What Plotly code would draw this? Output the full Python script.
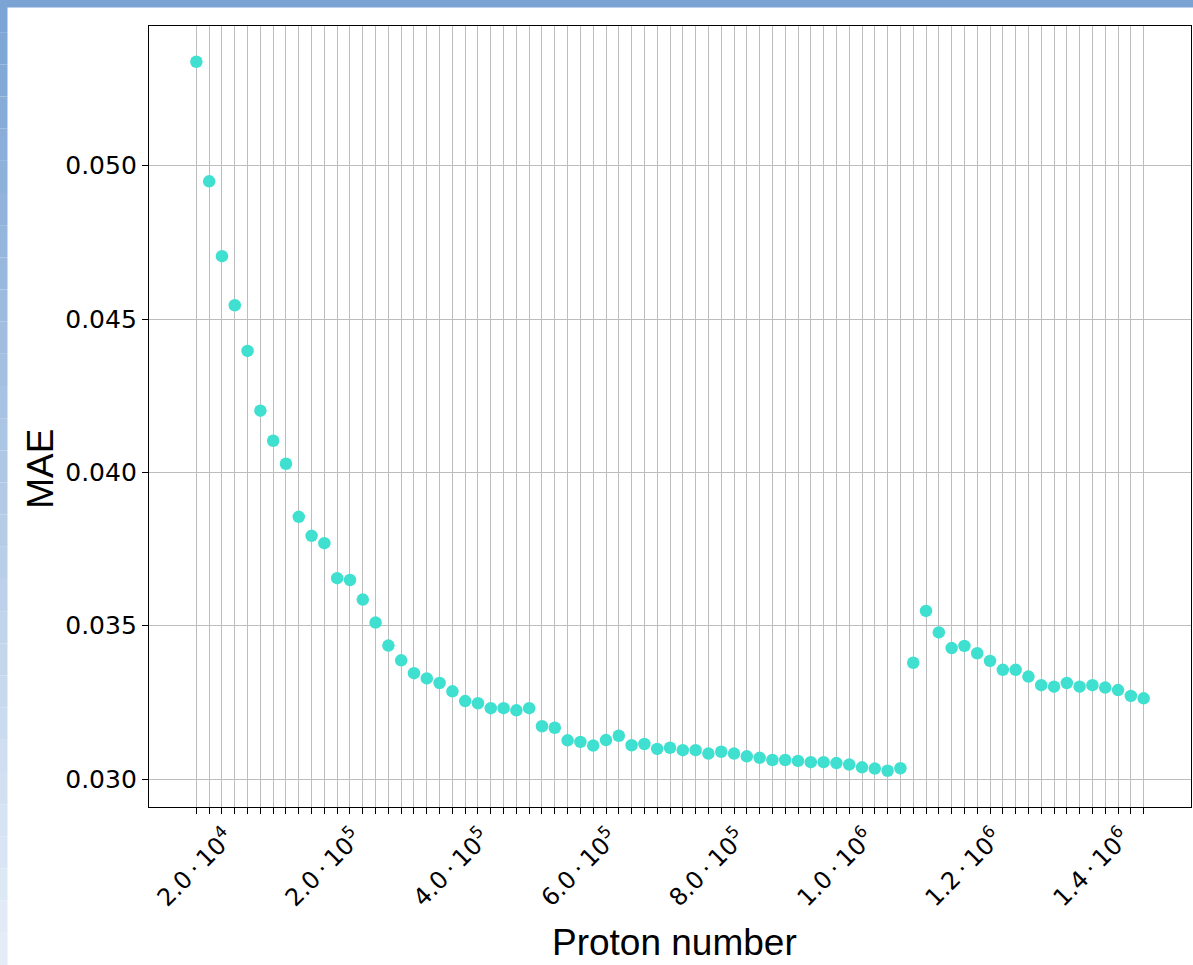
import plotly.graph_objects as go

# ---- data ----
point_index = list(range(75))
mae = [
    0.05339, 0.04949, 0.04705, 0.04545, 0.04396, 0.04201, 0.04103, 0.04028, 0.03855, 0.03793,
    0.03769, 0.03655, 0.03649, 0.03585, 0.03510, 0.03435, 0.03387, 0.03345, 0.03328, 0.03313,
    0.03286, 0.03254, 0.03247, 0.03231, 0.03231, 0.03224, 0.03231, 0.03172, 0.03167, 0.03126,
    0.03121, 0.03109, 0.03127, 0.03141, 0.03110, 0.03114, 0.03098, 0.03102, 0.03094, 0.03094,
    0.03083, 0.03089, 0.03083, 0.03074, 0.03069, 0.03062, 0.03062, 0.03059, 0.03055, 0.03055,
    0.03052, 0.03047, 0.03038, 0.03034, 0.03027, 0.03035, 0.03379, 0.03548, 0.03478, 0.03427,
    0.03434, 0.03410, 0.03385, 0.03356, 0.03356, 0.03334, 0.03306, 0.03301, 0.03313, 0.03301,
    0.03306, 0.03298, 0.03290, 0.03271, 0.03263,
]
label_positions = [2, 12, 22, 32, 42, 52, 62, 72]
label_texts = [
    "2.0\u2009·\u200910<sup>4</sup>",
    "2.0\u2009·\u200910<sup>5</sup>",
    "4.0\u2009·\u200910<sup>5</sup>",
    "6.0\u2009·\u200910<sup>5</sup>",
    "8.0\u2009·\u200910<sup>5</sup>",
    "1.0\u2009·\u200910<sup>6</sup>",
    "1.2\u2009·\u200910<sup>6</sup>",
    "1.4\u2009·\u200910<sup>6</sup>",
]
y_ticks = [0.030, 0.035, 0.040, 0.045, 0.050]
x_title = "Proton number"
y_title = "MAE"

label_map = dict(zip(label_positions, label_texts))
tick_text = [label_map.get(i, "") for i in point_index]

fig = go.Figure()
fig.add_trace(go.Scatter(
    x=point_index, y=mae, mode="markers",
    marker=dict(color="#40E0D0", size=12.5, line=dict(width=0)),
    showlegend=False,
))

W, H = 1193, 965
L, R, T, B = 149, 2, 26, 158
pw, ph = W - L - R, H - T - B

def px_x(p):
    return (p - L) / pw

def px_y(p):
    return (H - B - p) / ph

shapes = []
# top blue strip
shapes.append(dict(type="rect", xref="paper", yref="paper",
                   x0=px_x(0), x1=px_x(W), y0=px_y(7.5), y1=px_y(0),
                   fillcolor="rgb(122,163,211)", line=dict(width=0), layer="below"))
# left gradient strip
n = 30
c0 = (122, 163, 211)
c1 = (230, 238, 248)
for i in range(n):
    ya = i * H / n
    yb = (i + 1) * H / n
    t = (i + 0.5) / n
    c = tuple(int(round(c0[k] + (c1[k] - c0[k]) * t)) for k in range(3))
    shapes.append(dict(type="rect", xref="paper", yref="paper",
                       x0=px_x(0), x1=px_x(7.5), y0=px_y(yb), y1=px_y(ya),
                       fillcolor="rgb(%d,%d,%d)" % c, line=dict(width=0), layer="below"))

tick_font = dict(family="DejaVu Sans", size=25, color="black")
xtick_font = dict(family="DejaVu Sans", size=24, color="black")
title_font = dict(family="Liberation Sans", size=37, color="black")

annotations = [
    dict(text=x_title, xref="paper", yref="paper", x=px_x(674.5), y=px_y(943),
         xanchor="center", yanchor="middle", showarrow=False, font=title_font),
    dict(text=y_title, xref="paper", yref="paper", x=px_x(39.7), y=px_y(469),
         xanchor="center", yanchor="middle", showarrow=False, font=title_font,
         textangle=-90),
]

fig.update_layout(
    width=W, height=H,
    margin=dict(l=L, r=R, t=T, b=B),
    paper_bgcolor="white", plot_bgcolor="white",
    shapes=shapes,
    annotations=annotations,
    xaxis=dict(
        range=[-3.7, 77.7],
        tickmode="array", tickvals=point_index, ticktext=tick_text,
        tickangle=-45, tickfont=xtick_font, ticklabelshift=5,
        ticks="outside", ticklen=6, tickwidth=1.2, tickcolor="black",
        showgrid=True, gridcolor="#bdbdbd", gridwidth=1.3,
        showline=True, linecolor="black", linewidth=1.3, mirror=True,
        zeroline=False,
    ),
    yaxis=dict(
        range=[0.029087, 0.054555],
        tickmode="array", tickvals=y_ticks, ticktext=["%.3f" % v for v in y_ticks],
        tickfont=tick_font,
        ticks="outside", ticklen=6, tickwidth=1.2, tickcolor="black",
        showgrid=True, gridcolor="#bdbdbd", gridwidth=1.3,
        showline=True, linecolor="black", linewidth=1.3, mirror=True,
        zeroline=False,
    ),
)

fig.write_html("out.html", config={"displayModeBar": False},
               post_script="document.body.style.margin='0px';document.body.style.padding='0px';")
